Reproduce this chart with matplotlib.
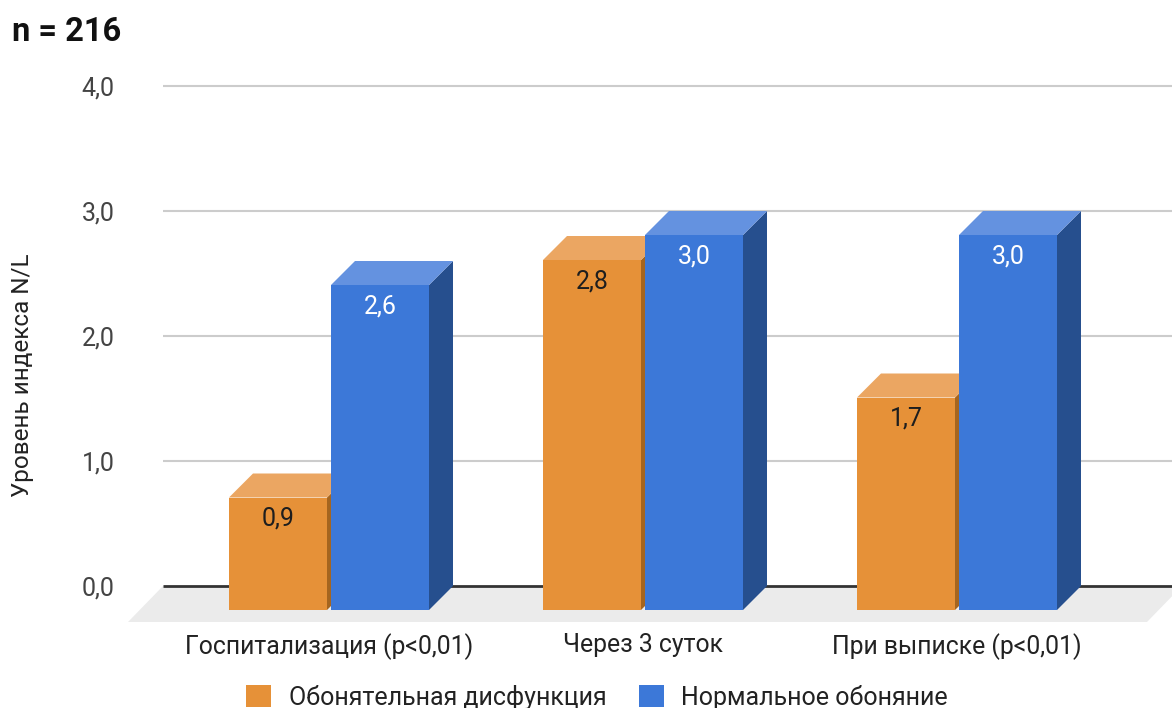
import matplotlib
matplotlib.use("Agg")
import matplotlib.pyplot as plt
from matplotlib.patches import Polygon, Patch

plt.rcParams['font.family'] = ['Roboto', 'DejaVu Sans']

categories = ["Госпитализация (p<0,01)", "Через 3 суток", "При выписке (p<0,01)"]
series_names = ["Обонятельная дисфункция", "Нормальное обоняние"]
dysfunction = [0.9, 2.8, 1.7]
normal = [2.6, 3.0, 3.0]
value_labels_dys = ["0,9", "2,8", "1,7"]
value_labels_norm = ["2,6", "3,0", "3,0"]
yticks = [0, 1, 2, 3, 4]
ytick_labels = ["0,0", "1,0", "2,0", "3,0", "4,0"]

W, H = 1172, 708
DPI = 100
fig = plt.figure(figsize=(W / DPI, H / DPI), dpi=DPI)

# pixel layout: group spacing and vertical scale
GX0, GSTEP = 329, 314     # x pixel of first group centre, px per group
Y0, YSTEP = 586, 125      # y pixel (from top) of value 0, px per unit

ax_left, ax_right = 128, W
ax_top, ax_bottom = 80, 630
ax = fig.add_axes([ax_left / W, (H - ax_bottom) / H,
                   (ax_right - ax_left) / W, (ax_bottom - ax_top) / H])
ax.set_xlim((ax_left - GX0) / GSTEP, (ax_right - GX0) / GSTEP)
ax.set_ylim((Y0 - ax_bottom) / YSTEP, (Y0 - ax_top) / YSTEP)
for s in ax.spines.values():
    s.set_visible(False)

def px_x(p):
    return p / GSTEP

def px_y(p):
    return p / YSTEP

dx, dy = px_x(24), px_y(24)

# floor
fl_dx, fl_dy = px_x(35), px_y(36)
fx_top_l = (163 - GX0) / GSTEP
fx_bot_r = (1147 - GX0) / GSTEP
floor = Polygon([(fx_top_l - fl_dx, -fl_dy), (fx_bot_r, -fl_dy),
                 (fx_bot_r + fl_dx, 0), (fx_top_l, 0)],
                closed=True, facecolor="#ebebeb", edgecolor="none", zorder=1)
ax.add_patch(floor)

# gridlines
xr = (ax_right - GX0) / GSTEP
for t in yticks[1:]:
    ax.plot([fx_top_l, xr], [t, t], color="#cccccc", lw=1.5, zorder=2,
            solid_capstyle="butt")
ax.plot([fx_top_l, xr], [0, 0], color="#333333", lw=2, zorder=2,
        solid_capstyle="butt")

ax.set_yticks(yticks)
ax.set_yticklabels(ytick_labels)
ax.tick_params(axis="y", length=0, pad=9.5, labelsize=18, labelcolor="#444444")
ax.set_xticks(range(len(categories)))
ax.set_xticklabels(categories)
ax.tick_params(axis="x", length=0, pad=2, labelsize=17.8, labelcolor="#222222")

bar_w = px_x(98)
gap = px_x(2)

styles = [
    dict(front="#e69138", top="#eba662", side="#a5651f", txt="#1e1e1e"),
    dict(front="#3c78d8", top="#6492e0", side="#264f8e", txt="#ffffff"),
]

def bar3d(x0, v, st, label):
    x1 = x0 + bar_w
    front = [(x0, -dy), (x1, -dy), (x1, v - dy), (x0, v - dy)]
    top = [(x0, v - dy), (x1, v - dy), (x1 + dx, v), (x0 + dx, v)]
    side = [(x1, -dy), (x1 + dx, 0), (x1 + dx, v), (x1, v - dy)]
    ax.add_patch(Polygon(side, closed=True, facecolor=st["side"], edgecolor="none", zorder=3))
    ax.add_patch(Polygon(top, closed=True, facecolor=st["top"], edgecolor="none", zorder=3))
    ax.add_patch(Polygon(front, closed=True, facecolor=st["front"], edgecolor="none", zorder=3))
    ax.text((x0 + x1) / 2, v - dy - px_y(21), label, ha="center", va="center",
            fontsize=18, color=st["txt"], zorder=4)

for i in range(len(categories)):
    bar3d(i - gap - bar_w, dysfunction[i], styles[0], value_labels_dys[i])
    bar3d(i + gap, normal[i], styles[1], value_labels_norm[i])

fig.text(12 / W, 1 - 32 / H, "n = 216", fontsize=23.5, fontweight="bold",
         ha="left", va="center", color="#111111")
fig.text(23 / W, 1 - 375 / H, "Уровень индекса N/L", rotation=90, fontsize=17.5,
         ha="center", va="center", color="#222222")

handles = [Patch(facecolor=styles[0]["front"], edgecolor="none"),
           Patch(facecolor=styles[1]["front"], edgecolor="none")]
fig.legend(handles, series_names, loc="center", bbox_to_anchor=(597 / W, 1 - 697 / H),
           ncol=2, frameon=False, fontsize=18, handlelength=1.0, handleheight=1.0,
           handletextpad=0.7, columnspacing=1.3, labelcolor="#222222")

fig.savefig("out.png", dpi=DPI)
